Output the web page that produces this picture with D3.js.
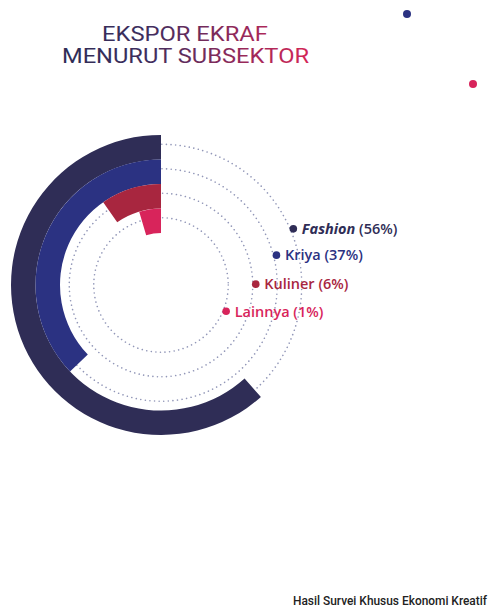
<!DOCTYPE html>
<html>
<head>
<meta charset="utf-8">
<script src="https://cdn.jsdelivr.net/npm/d3@7"></script>
<style>
  html, body { margin: 0; padding: 0; background: #ffffff; }
  svg { display: block; }
</style>
</head>
<body>
<svg id="chart" width="488" height="608"></svg>
<script>
// ---- data ----
const categories = ["Fashion", "Kriya", "Kuliner", "Lainnya"];
const shareLabels = [56, 37, 6, 1];            // % shown in legend
const arcLengths = [61.6, 37.1, 9.7, 4.6];     // drawn arc length, % of a full turn
const titleLines = ["EKSPOR EKRAF", "MENURUT SUBSEKTOR"];
const footerText = "Hasil Survei Khusus Ekonomi Kreatif";

// ---- styles / layout ----
const colors = ["#2f2d56", "#2b3282", "#a8263f", "#d8245b"];
const cx = 161, cy = 285;
const legendAngles = [67, 75.5, 89.5, 112]; // degrees clockwise from top, where legend dots sit

const svg = d3.select("#chart");

// gradient for title
const defs = svg.append("defs");
const grad = defs.append("linearGradient")
  .attr("id", "titleGrad")
  .attr("gradientUnits", "userSpaceOnUse")
  .attr("x1", 62).attr("y1", 0).attr("x2", 309).attr("y2", 0);
grad.append("stop").attr("offset", "0").attr("stop-color", "#2e2c55");
grad.append("stop").attr("offset", "0.35").attr("stop-color", "#3f2d5e");
grad.append("stop").attr("offset", "1").attr("stop-color", "#d42657");

const titleG = svg.append("g")
  .attr("font-family", "Roboto, 'DejaVu Sans', sans-serif")
  .attr("font-size", 19.5)
  .attr("font-weight", 400)
  .attr("fill", "url(#titleGrad)");
titleG.append("text").attr("x", 102).attr("y", 40.5)
  .attr("textLength", 166).attr("lengthAdjust", "spacingAndGlyphs")
  .text(titleLines[0]);
titleG.append("text").attr("x", 62).attr("y", 62.5)
  .attr("textLength", 247).attr("lengthAdjust", "spacingAndGlyphs")
  .text(titleLines[1]);

// decorative dots
svg.append("circle").attr("cx", 407).attr("cy", 14).attr("r", 4).attr("fill", "#2b3282");
svg.append("circle").attr("cx", 473).attr("cy", 84).attr("r", 4).attr("fill", "#d8245b");

// scales
const rScale = d3.scaleBand().domain(categories).range([150, 52]).paddingInner(0);
const aScale = d3.scaleLinear().domain([0, 100]).range([0, 2 * Math.PI]);

const g = svg.append("g").attr("transform", `translate(${cx},${cy})`);

// dotted guide circles
g.selectAll("circle.guide")
  .data(categories)
  .join("circle")
  .attr("class", "guide")
  .attr("r", d => rScale(d) + rScale.bandwidth() / 2 + 3)
  .attr("fill", "none")
  .attr("stroke", "#9297b8")
  .attr("stroke-width", 1.6)
  .attr("stroke-linecap", "round")
  .attr("stroke-dasharray", "0.01 4.6");

// arcs (counter-clockwise from 12 o'clock)
const arc = d3.arc();
g.selectAll("path.ring")
  .data(categories.map((c, i) => ({ c, i, v: arcLengths[i] })))
  .join("path")
  .attr("class", "ring")
  .attr("fill", d => colors[d.i])
  .attr("d", d => arc({
    innerRadius: rScale(d.c),
    outerRadius: rScale(d.c) + rScale.bandwidth(),
    startAngle: -aScale(d.v),
    endAngle: 0
  }));

// legend on the guide circles
const leg = g.selectAll("g.leg")
  .data(categories.map((c, i) => ({ c, i })))
  .join("g")
  .attr("class", "leg")
  .attr("transform", d => {
    const r = rScale(d.c) + rScale.bandwidth() / 2 + 6;
    const a = legendAngles[d.i] * Math.PI / 180;
    return `translate(${r * Math.sin(a)},${-r * Math.cos(a)})`;
  });
leg.append("circle").attr("r", 3.8).attr("fill", d => colors[d.i]);
const lt = leg.append("text")
  .attr("x", 8.5).attr("y", 5.2)
  .attr("font-family", "'Open Sans', sans-serif")
  .attr("font-size", 14.5)
  .attr("font-weight", 600)
  .attr("fill", d => colors[d.i]);
lt.append("tspan")
  .attr("font-style", d => d.i === 0 ? "italic" : "normal")
  .attr("font-weight", d => d.i === 0 ? 700 : 600)
  .text(d => d.c);
lt.append("tspan").text(d => ` (${shareLabels[d.i]}%)`);

// footer
svg.append("text")
  .attr("x", 293).attr("y", 605)
  .attr("font-family", "Roboto, sans-serif")
  .attr("font-size", 12)
  .attr("font-weight", 500)
  .attr("fill", "#222222")
  .attr("textLength", 194).attr("lengthAdjust", "spacingAndGlyphs")
  .text(footerText);
</script>
</body>
</html>
